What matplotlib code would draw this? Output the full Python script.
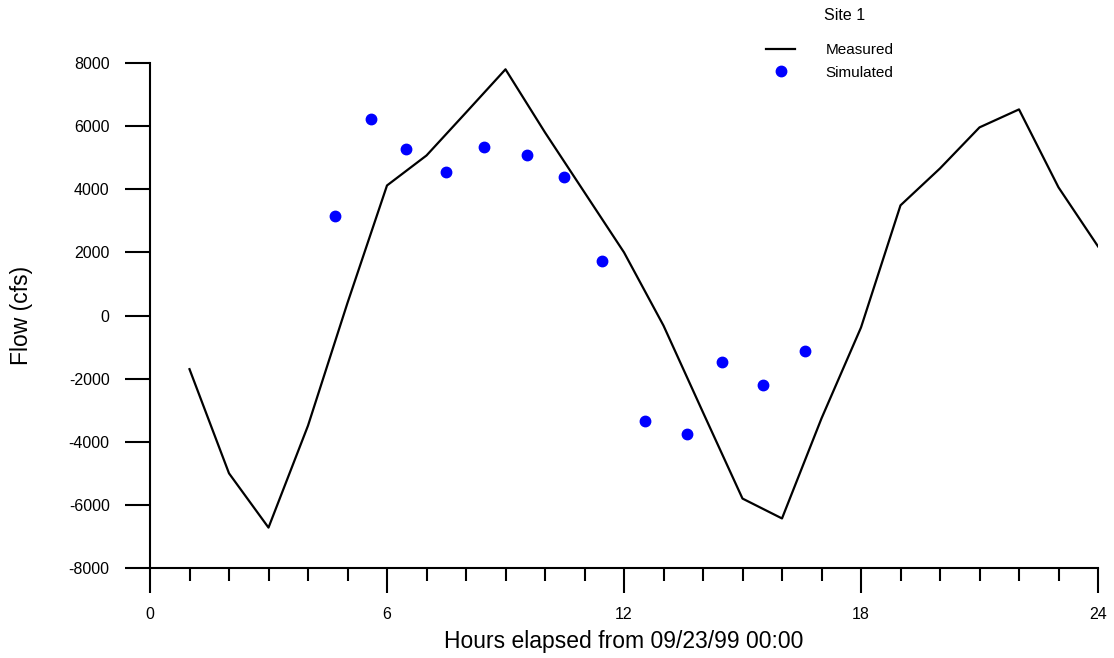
import matplotlib
matplotlib.use("Agg")
import matplotlib.pyplot as plt
from matplotlib.ticker import MultipleLocator

plt.rcParams["font.family"] = ["Liberation Sans", "DejaVu Sans"]
plt.rcParams["axes.unicode_minus"] = False

# measured flow, hourly
meas_hours = [1, 2, 3, 4, 5, 6, 7, 8, 9, 10, 11, 12,
              13, 14, 15, 16, 17, 18, 19, 20, 21, 22, 23, 24]
meas_flow = [-1700, -5000, -6720, -3490, 400, 4120, 5070, 6430, 7800, 5800, 3900, 2000,
             -320, -3070, -5800, -6430, -3260, -380, 3490, 4660, 5960, 6530, 4060, 2190]

# simulated flow
sim_hours = [4.68, 5.6, 6.48, 7.49, 8.46, 9.54, 10.48, 11.44, 12.53, 13.59, 14.48, 15.52, 16.58]
sim_flow = [3140, 6240, 5290, 4560, 5350, 5070, 4400, 1740, -3330, -3770, -1460, -2190, -1110]

fig = plt.figure(figsize=(11.14, 6.58), dpi=100)
ax = fig.add_axes([150 / 1114, 90 / 658, 948 / 1114, 505 / 658])

ax.plot(meas_hours, meas_flow, color="black", linewidth=1.6, label="Measured")
ax.plot(sim_hours, sim_flow, linestyle="none", marker="o", markersize=7.5,
        color="#0000ff", markeredgecolor="#0000ff", label="Simulated")

ax.set_xlim(0, 24)
ax.set_ylim(-8000, 8000)
ax.xaxis.set_major_locator(MultipleLocator(6))
ax.xaxis.set_minor_locator(MultipleLocator(1))
ax.yaxis.set_major_locator(MultipleLocator(2000))

for s in ("top", "right"):
    ax.spines[s].set_visible(False)
for s in ("left", "bottom"):
    ax.spines[s].set_linewidth(1.5)
ax.tick_params(axis="both", which="major", direction="out", length=18, width=1.5,
               labelsize=11.5)
ax.tick_params(axis="x", which="minor", direction="out", length=9, width=1.5)
ax.tick_params(axis="y", which="major", pad=11)
ax.tick_params(axis="x", which="major", pad=10)

ax.set_xlabel("Hours elapsed from 09/23/99 00:00", fontsize=16.5, labelpad=6)
ax.set_ylabel("Flow (cfs)", fontsize=16.5, labelpad=26)

fig.text(845 / 1114, 1 - 15 / 658, "Site 1", fontsize=11.5, ha="center", va="center")
fig.legend(loc="upper left", bbox_to_anchor=(760 / 1114, 1 - 37 / 658),
           frameon=False, fontsize=11, handlelength=1.9, handletextpad=2.0,
           labelspacing=0.55, borderaxespad=0)

fig.savefig("out.png", dpi=100)
